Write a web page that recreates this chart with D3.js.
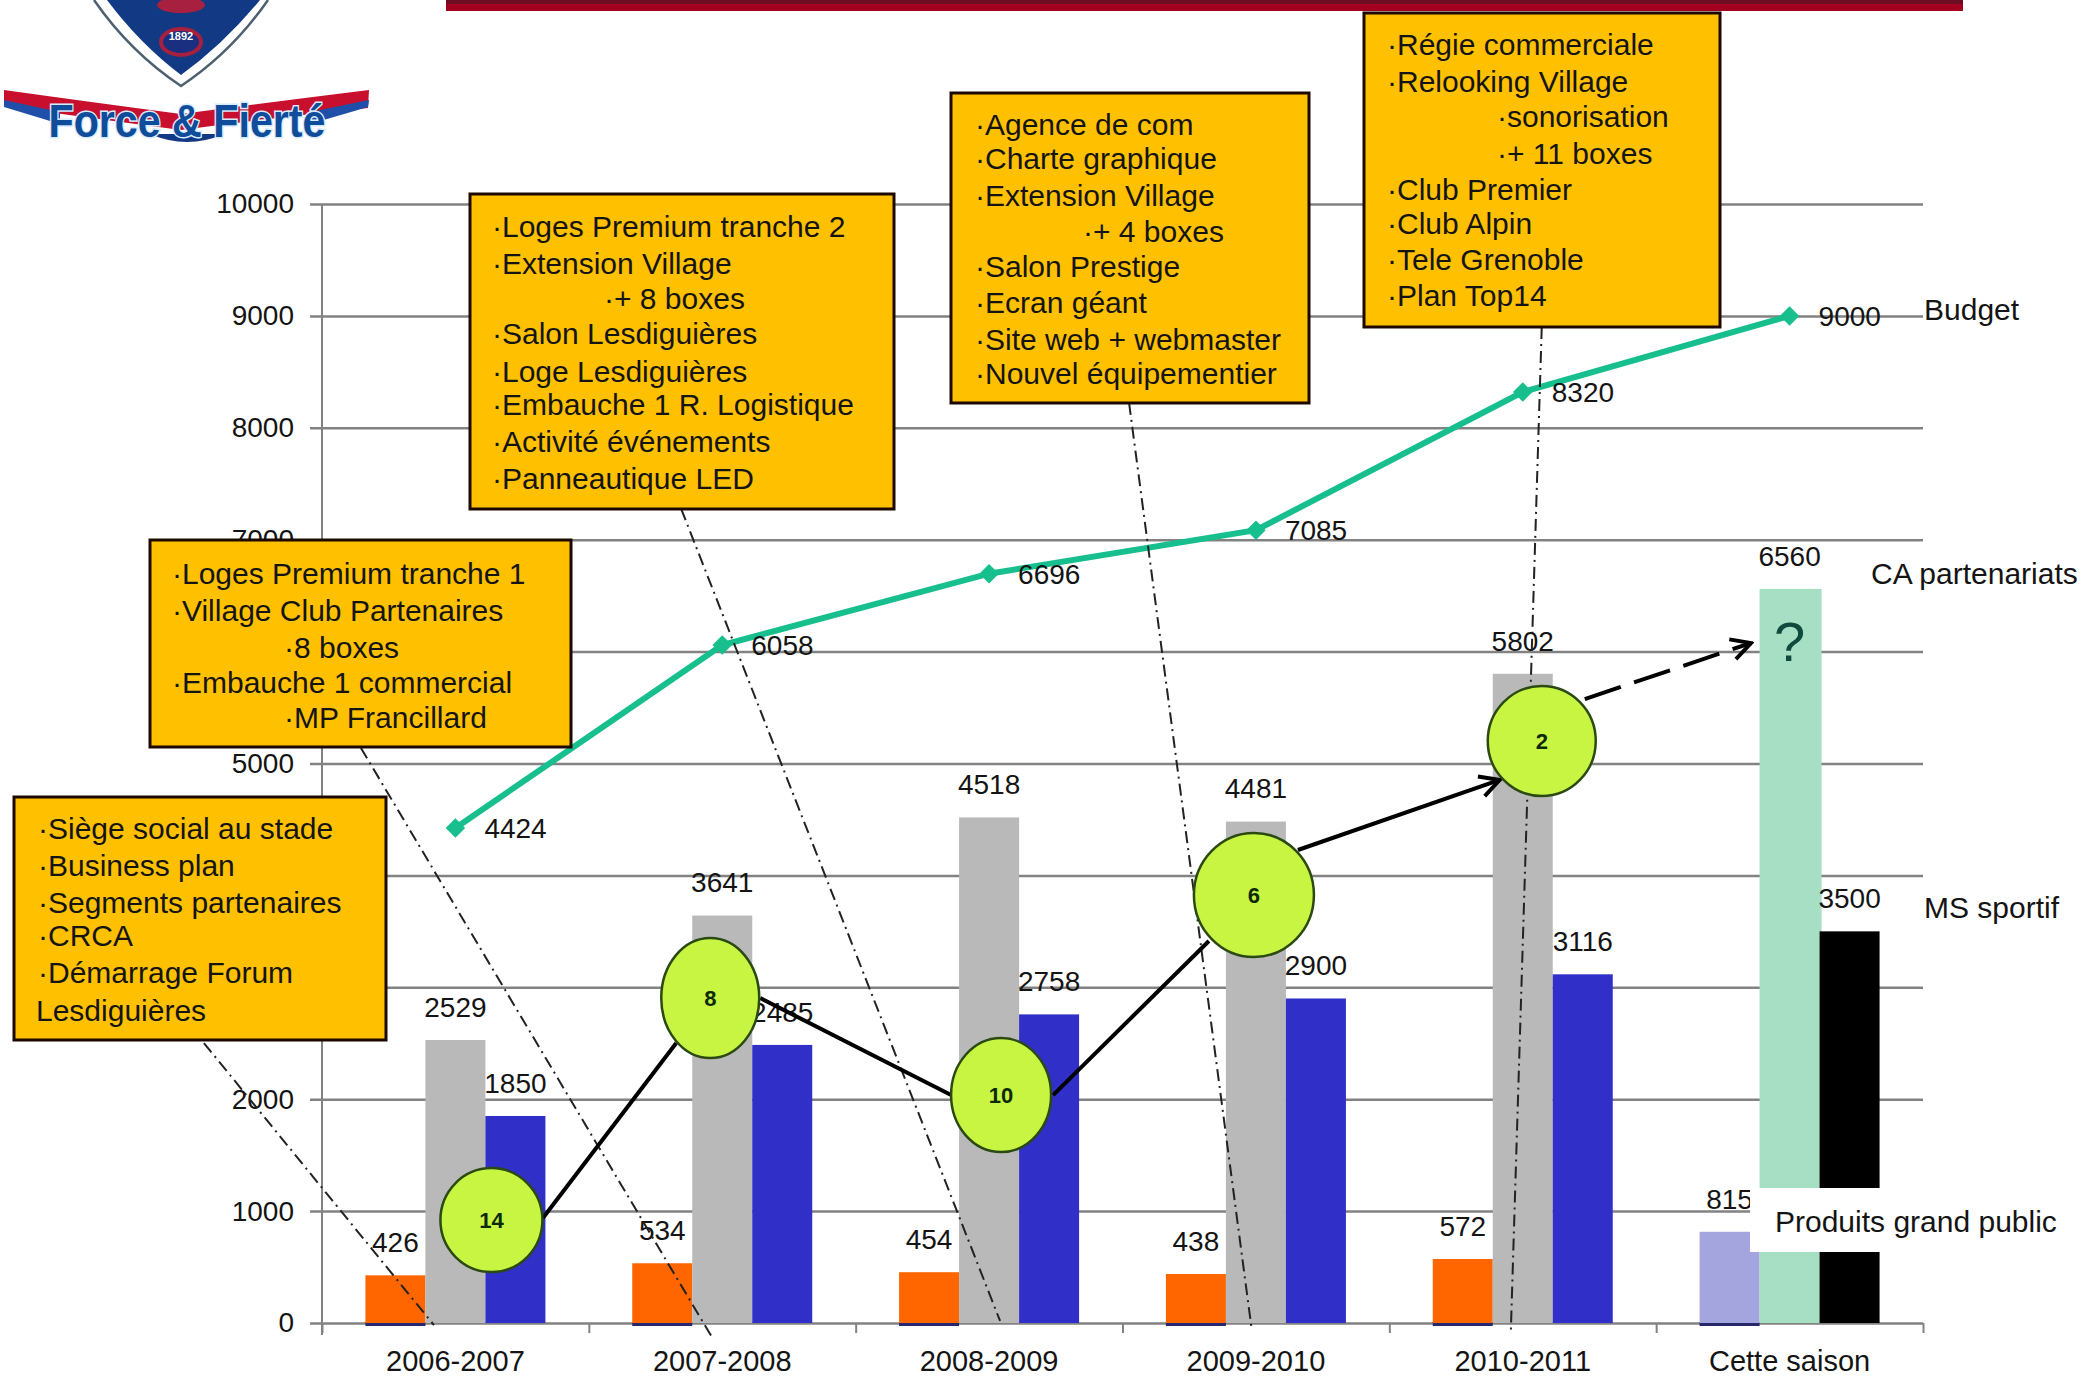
<!DOCTYPE html>
<html lang="fr">
<head>
<meta charset="utf-8">
<title>Budget et partenariats</title>
<style>
  html, body { margin: 0; background: #fff; }
  svg { display: block; font-family: "Liberation Sans", Arial, sans-serif; }
</style>
<script src="https://cdn.jsdelivr.net/npm/d3@7"></script>
</head>
<body>
<svg id="chart" width="2083" height="1377"></svg>
<script>
// Season data
const seasons = ["2006-2007", "2007-2008", "2008-2009", "2009-2010", "2010-2011", "Cette saison"];
const produits = [426, 534, 454, 438, 572, 815];
const partenariats = [2529, 3641, 4518, 4481, 5802, 6560];
const sportif = [1850, 2485, 2758, 2900, 3116, 3500];
const budget = [4424, 6058, 6696, 7085, 8320, 9000];
const yTicks = [0, 1000, 2000, 3000, 4000, 5000, 6000, 7000, 8000, 9000, 10000];
// Gridlines whose label would sit underneath a callout carry no label
const unlabelledTicks = [3000, 4000, 6000];

// Ranking of each completed season, and the level its badge sits at on the value axis
const rankings = [14, 8, 10, 6, 2];
const rankLevels = [920, 2904, 2037, 3825, 5201];

// Callout texts; a leading ">" marks an indented line
const calloutSiege = ["·Siège social au stade", "·Business plan", "·Segments partenaires", "·CRCA", "·Démarrage Forum", "Lesdiguières"];
const calloutTranche1 = ["·Loges Premium tranche 1", "·Village Club Partenaires", ">·8 boxes", "·Embauche 1 commercial", ">·MP Francillard"];
const calloutTranche2 = ["·Loges Premium tranche 2", "·Extension Village", ">·+ 8 boxes", "·Salon Lesdiguières", "·Loge Lesdiguières", "·Embauche 1 R. Logistique", "·Activité événements", "·Panneautique LED"];
const calloutAgence = ["·Agence de com", "·Charte graphique", "·Extension Village", ">·+ 4 boxes", "·Salon Prestige", "·Ecran géant", "·Site web + webmaster", "·Nouvel équipementier"];
const calloutRegie = ["·Régie commerciale", "·Relooking Village", ">·sonorisation", ">·+ 11 boxes", "·Club Premier", "·Club Alpin", "·Tele Grenoble", "·Plan Top14"];

// Plot frame and scales
const plot = { left: 322, right: 1923, top: 204, bottom: 1323 };
const x0 = d3.scaleBand().domain(seasons).range([plot.left, plot.right]);
const x1 = d3.scaleBand().domain(["produits", "partenariats", "sportif"]).range([-90, 90]);
const y = d3.scaleLinear().domain([0, 10000]).range([plot.bottom, plot.top]);
const centre = i => x0(seasons[i]) + x0.bandwidth() / 2;
const at = ([i, dx, v]) => [centre(i) + dx, y(v)];

const FONT = 28, TEXT_FONT = 30, INK = "#141414", GRID = "#828282";
const svg = d3.select("#chart");

// Header band and club crest
const crest = svg.append("g");
svg.append("rect").attr("x", 446).attr("y", 0).attr("width", 1517).attr("height", 11).attr("fill", "#a3001f");
svg.append("rect").attr("x", 446).attr("y", 0).attr("width", 1517).attr("height", 4).attr("fill", "#6e0d22");
crest.append("path").attr("d", "M94,0 Q130,52 181,86 Q232,52 268,0").attr("fill", "#fff").attr("stroke", "#4d6070").attr("stroke-width", 2.5);
crest.append("path").attr("d", "M107,0 Q140,44 181,75 Q224,44 260,0 Z").attr("fill", "#123a84");
crest.append("ellipse").attr("cx", 181).attr("cy", 5).attr("rx", 24).attr("ry", 8).attr("fill", "#a8203f");
crest.append("ellipse").attr("cx", 181).attr("cy", 42).attr("rx", 20).attr("ry", 13).attr("fill", "#1a2f7f").attr("stroke", "#a8203f").attr("stroke-width", 4);
crest.append("text").attr("x", 181).attr("y", 40).attr("text-anchor", "middle").attr("font-size", 11).attr("font-weight", "bold").attr("fill", "#fff").text("1892");
// Banner wings: red above, blue below
crest.append("path").attr("d", "M4,90 Q90,102 181,114 Q272,102 369,90 L368,108 Q270,118 181,130 Q90,118 4,106 Z").attr("fill", "#c8102e");
crest.append("path").attr("d", "M4,100 L60,112 L60,124 L4,107 Z M369,100 L310,112 L310,124 L368,107 Z").attr("fill", "#1f4fa8");
crest.append("path").attr("d", "M150,134 Q187,150 224,134 Z").attr("fill", "#123a84");
crest.append("text").attr("x", 187).attr("y", 137).attr("text-anchor", "middle")
  .attr("font-size", 46).attr("font-weight", "bold").attr("fill", "#0f4c9a")
  .attr("stroke", "#d6ebff").attr("stroke-width", 3).attr("paint-order", "stroke")
  .attr("textLength", 277).attr("lengthAdjust", "spacingAndGlyphs").text("Force & Fierté");

// Value axis with gridlines
const yAxis = svg.append("g").attr("transform", `translate(${plot.left},0)`)
  .call(d3.axisLeft(y).tickValues(yTicks).tickSize(12).tickPadding(16)
    .tickFormat(d => unlabelledTicks.includes(d) ? "" : d3.format("d")(d)));
yAxis.select(".domain").attr("stroke", GRID).attr("stroke-width", 2).attr("d", `M0,${plot.top}V${plot.bottom + 12}`);
yAxis.selectAll(".tick line").attr("stroke", GRID).attr("stroke-width", 2.5).attr("x2", plot.right - plot.left).attr("x1", -12);
yAxis.selectAll("text").attr("font-size", FONT).attr("fill", INK).attr("font-family", "Liberation Sans");

// Season axis: ticks between seasons, labels centred under each group
const boundaries = d3.scaleLinear().domain([0, seasons.length]).range([plot.left, plot.right]);
const xTicks = svg.append("g").attr("transform", `translate(0,${plot.bottom})`)
  .call(d3.axisBottom(boundaries).ticks(seasons.length).tickSize(10).tickFormat(""));
xTicks.select(".domain").remove();
xTicks.selectAll("line").attr("stroke", GRID).attr("stroke-width", 2);
const xLabels = svg.append("g").attr("transform", `translate(0,${plot.bottom})`)
  .call(d3.axisBottom(x0).tickSize(0).tickPadding(27));
xLabels.select(".domain").remove();
xLabels.selectAll("text").attr("font-size", FONT + 1).attr("fill", INK).attr("font-family", "Liberation Sans");

// Grouped bars; the current season gets its own lighter colours
const last = seasons.length - 1;
const seriesList = [
  { key: "produits", values: produits, colour: "#ff6600", current: "#a4a4de" },
  { key: "partenariats", values: partenariats, colour: "#b9b9b9", current: "#a6dfc3" },
  { key: "sportif", values: sportif, colour: "#3030c8", current: "#000000" }
];
const barLeft = (s, i) => centre(i) + x1(s.key);
seriesList.forEach(s => {
  const g = svg.append("g");
  if (s.key === "produits") {
    // Dark foot below the shortest bars
    g.selectAll("rect.foot").data(s.values).join("rect").attr("class", "foot")
      .attr("x", (d, i) => barLeft(s, i)).attr("y", plot.bottom - 1)
      .attr("width", x1.bandwidth()).attr("height", 4).attr("fill", "#27276b");
  }
  g.selectAll("rect.bar").data(s.values).join("rect").attr("class", "bar")
    .attr("x", (d, i) => barLeft(s, i)).attr("y", d => y(d))
    .attr("width", (d, i) => x1.bandwidth() + (i === last && s.key === "partenariats" ? 2 : 0))
    .attr("height", d => y(0) - y(d))
    .attr("fill", (d, i) => i === last ? s.current : s.colour);
  g.selectAll("text").data(s.values).join("text")
    .attr("x", (d, i) => barLeft(s, i) + x1.bandwidth() / 2).attr("y", d => y(d) - 33)
    .attr("dy", "0.35em").attr("text-anchor", "middle")
    .attr("font-size", FONT).attr("fill", INK).text(d => d);
});

// Question mark over the current season's partnership bar
svg.append("text").attr("x", centre(last)).attr("y", 641).attr("dy", "0.35em").attr("text-anchor", "middle")
  .attr("font-size", 56).attr("fill", "#0f4a3c").text("?");

// Budget line with diamond markers and labels
const budgetLine = d3.line().x((d, i) => centre(i)).y(d => y(d));
svg.append("path").datum(budget).attr("d", budgetLine).attr("fill", "none").attr("stroke", "#17bf8e").attr("stroke-width", 6);
svg.selectAll("path.marker").data(budget).join("path").attr("class", "marker")
  .attr("d", d3.symbol(d3.symbolSquare, 190))
  .attr("transform", (d, i) => `translate(${centre(i)},${y(d)}) rotate(45)`).attr("fill", "#17bf8e");
svg.selectAll("text.budget").data(budget).join("text").attr("class", "budget")
  .attr("x", (d, i) => centre(i) + 29).attr("y", d => y(d)).attr("dy", "0.35em")
  .attr("font-size", FONT).attr("fill", INK).text(d => d);

// Dash-dot leaders from each callout down to its season
const leaders = [
  [[0, -251.5, 2502], [0, -21.5, -18]],
  [[0, -94.5, 5139], [1, -11, -116]],
  [[1, -41, 7274], [2, 11, 18]],
  [[2, 140, 8222], [3, -4, -71]],
  [[4, 19, 8901], [4, -12, -98]]
];
svg.selectAll("line.leader").data(leaders).join("line").attr("class", "leader")
  .attr("x1", d => at(d[0])[0]).attr("y1", d => at(d[0])[1])
  .attr("x2", d => at(d[1])[0]).attr("y2", d => at(d[1])[1])
  .attr("stroke", "#222").attr("stroke-width", 2).attr("stroke-dasharray", "12 5 2 5");

// Orange callouts
const callouts = [
  { lines: calloutSiege, x: 14, y: 797, w: 372, h: 243, tx: 38, indent: 0, rows: [828, 865, 902, 935, 972, 1010] },
  { lines: calloutTranche1, x: 150, y: 540, w: 421, h: 207, tx: 172, indent: 284, rows: [573, 610, 647, 682, 717] },
  { lines: calloutTranche2, x: 470, y: 194, w: 424, h: 315, tx: 492, indent: 604, rows: [226, 263, 298, 333, 371, 404, 441, 478] },
  { lines: calloutAgence, x: 951, y: 93, w: 358, h: 310, tx: 975, indent: 1083, rows: [124, 158, 195, 231, 266, 302, 339, 373] },
  { lines: calloutRegie, x: 1364, y: 13, w: 356, h: 314, tx: 1387, indent: 1497, rows: [44, 81, 116, 153, 189, 223, 259, 295] }
];
callouts.forEach(c => {
  const g = svg.append("g");
  g.append("rect").attr("x", c.x).attr("y", c.y).attr("width", c.w).attr("height", c.h)
    .attr("fill", "#ffc000").attr("stroke", "#1d0800").attr("stroke-width", 3);
  g.selectAll("text").data(c.lines).join("text")
    .attr("x", d => d.startsWith(">") ? c.indent : (d.startsWith("·") ? c.tx : c.tx - 2))
    .attr("y", (d, i) => c.rows[i]).attr("dy", "0.35em")
    .attr("font-size", TEXT_FONT).attr("fill", INK).text(d => d.replace(">", ""));
});

// Ranking trajectory: four solid legs, then a dashed projection
const legs = [
  { from: [0, 87.5, 938], to: [1, -46, 2502] },
  { from: [1, 38, 2904], to: [2, -38, 2037] },
  { from: [2, 64, 2037], to: [3, -47, 3414] },
  { from: [3, 42, 4227], to: [4, -23, 4853], arrow: true },
  { from: [4, 62, 5576], to: [5, -38.5, 6077], arrow: true, dashed: true }
];
const defs = svg.append("defs");
defs.append("marker").attr("id", "stick").attr("viewBox", "0 0 20 20").attr("refX", 18).attr("refY", 10)
  .attr("markerWidth", 26).attr("markerHeight", 26).attr("markerUnits", "userSpaceOnUse").attr("orient", "auto")
  .append("path").attr("d", "M3,2 L18,10 L3,18").attr("fill", "none").attr("stroke", "#000").attr("stroke-width", 3);
svg.selectAll("line.leg").data(legs).join("line").attr("class", "leg")
  .attr("x1", d => at(d.from)[0]).attr("y1", d => at(d.from)[1])
  .attr("x2", d => at(d.to)[0]).attr("y2", d => at(d.to)[1])
  .attr("stroke", "#000").attr("stroke-width", 4)
  .attr("stroke-dasharray", d => d.dashed ? "38 14" : null)
  .attr("marker-end", d => d.arrow ? "url(#stick)" : null);

// Ranking badges
const badgeShape = [
  { dx: 36, rx: 51, ry: 52 }, { dx: -12, rx: 49, ry: 60 }, { dx: 12, rx: 50, ry: 57 },
  { dx: -2, rx: 60, ry: 62 }, { dx: 19, rx: 54, ry: 55 }
];
const badges = svg.selectAll("g.badge").data(rankings).join("g").attr("class", "badge")
  .attr("transform", (d, i) => `translate(${centre(i) + badgeShape[i].dx},${y(rankLevels[i])})`);
badges.append("ellipse").attr("rx", (d, i) => badgeShape[i].rx).attr("ry", (d, i) => badgeShape[i].ry)
  .attr("fill", "#c8f542").attr("stroke", "#2b4a12").attr("stroke-width", 2.5);
badges.append("text").attr("dy", "0.35em").attr("text-anchor", "middle")
  .attr("font-size", 22).attr("font-weight", "bold").attr("fill", "#0c2a08").text(d => d);

// Series names at the right; the last one sits on a white plate
svg.append("rect").attr("x", 1750).attr("y", 1188).attr("width", 312).attr("height", 64).attr("fill", "#fff");
const seriesNames = [["Budget", 1924, 309], ["CA partenariats", 1871, 573], ["MS sportif", 1924, 907], ["Produits grand public", 1775, 1221]];
svg.selectAll("text.series").data(seriesNames).join("text").attr("class", "series")
  .attr("x", d => d[1]).attr("y", d => d[2]).attr("dy", "0.35em")
  .attr("font-size", TEXT_FONT).attr("fill", INK).text(d => d[0]);
</script>
</body>
</html>
